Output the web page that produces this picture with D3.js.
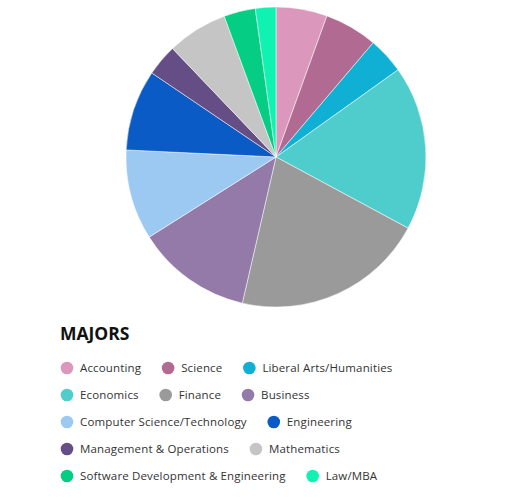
<!DOCTYPE html>
<html><head><meta charset="utf-8">
<script src="https://cdn.jsdelivr.net/npm/d3@7"></script>
<style>body{margin:0;background:#fff;}svg{display:block;}</style>
</head><body>
<script>
const categories = ["Accounting","Science","Liberal Arts/Humanities","Economics","Finance","Business","Computer Science/Technology","Engineering","Management & Operations","Mathematics","Software Development & Engineering","Law/MBA"];
const values = [5.5, 5.7, 3.9, 17.7, 20.7, 12.4, 9.7, 8.7, 3.4, 6.5, 3.4, 2.2];
const colors = ["#dc97bc","#b16b92","#10b0d5","#4fcccc","#9a9a9a","#937aa8","#9cc9f2","#0a5bc6","#654e86","#c5c5c5","#05cd84","#10f2b1"];
const legendTitle = "MAJORS";

const W = 520, H = 499;
const svg = d3.select("body").append("svg").attr("width", W).attr("height", H);

const cx = 276, cy = 157, r = 150;
const pie = d3.pie().sort(null).value(d => d.v);
const arc = d3.arc().innerRadius(0).outerRadius(r);
const data = categories.map((c,i)=>({c, v: values[i], col: colors[i]}));
svg.append("g").attr("transform", `translate(${cx},${cy})`)
  .selectAll("path").data(pie(data)).join("path")
  .attr("d", arc).attr("fill", d => d.data.col)
  .attr("stroke", "#fff").attr("stroke-width", 0.5);

const font = "'Open Sans', sans-serif";
svg.append("text").attr("x", 60).attr("y", 340).text(legendTitle)
  .attr("font-family", font).attr("font-weight", 700).attr("font-size", 17.5).attr("fill", "#111");

const lg = svg.append("g");
let x = 60, rowY = 368;
const maxX = 420, rowH = 27;
data.forEach(d => {
  const g = lg.append("g");
  const t = g.append("text").text(d.c).attr("font-family", font).attr("font-size", 11.5)
    .attr("letter-spacing", 0.15).attr("fill", "#333").attr("dy", "0.35em");
  const tw = t.node().getComputedTextLength();
  const itemW = 20 + tw;
  if (x + itemW > maxX && x > 60) { x = 60; rowY += rowH; }
  g.append("circle").attr("cx", x + 7).attr("cy", rowY).attr("r", 6.3).attr("fill", d.col);
  t.attr("x", x + 20).attr("y", rowY);
  x += itemW + 20;
});
</script>
</body></html>
